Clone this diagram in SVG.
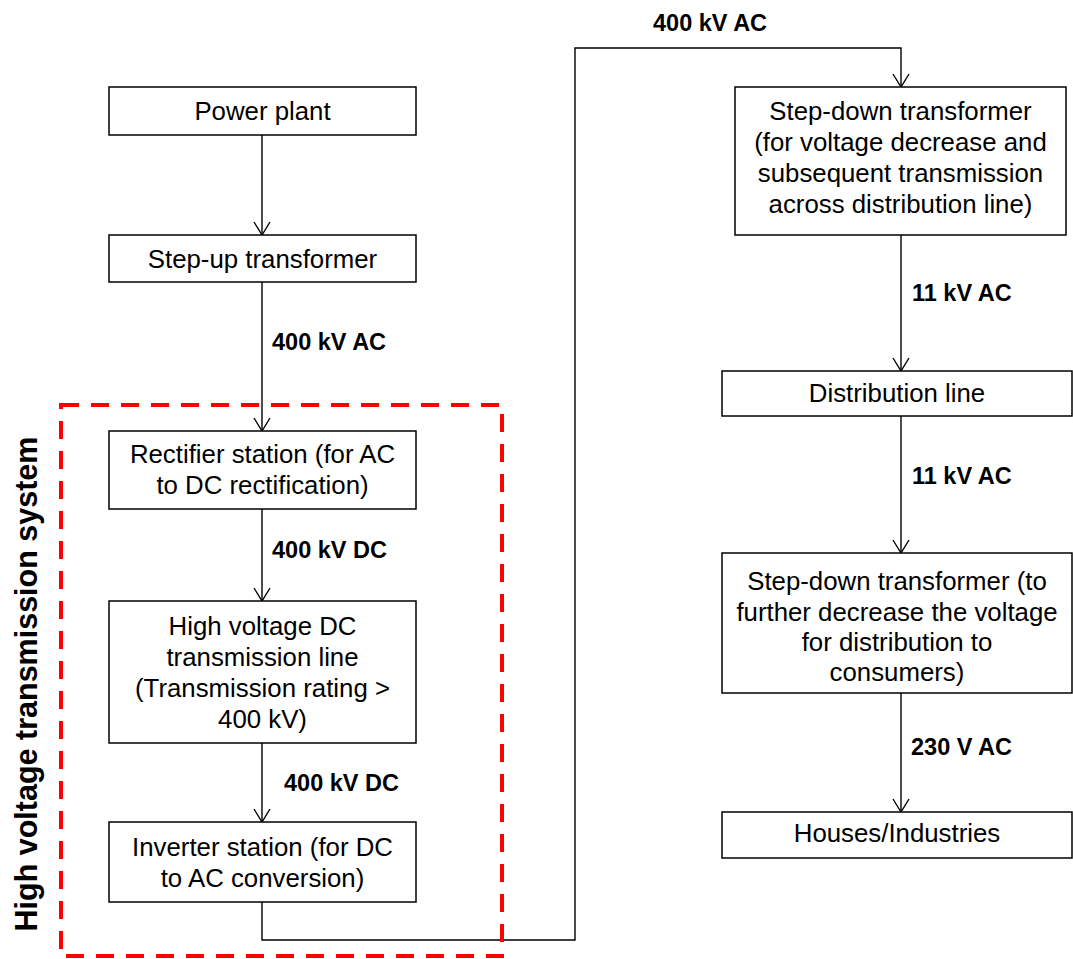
<svg xmlns="http://www.w3.org/2000/svg" width="1073" height="959" viewBox="0 0 1073 959">
<style>
.box{fill:#fff;stroke:#000;stroke-width:1.5}
.t{font-family:"Liberation Sans",Arial,sans-serif;font-size:25.8px;fill:#000;text-anchor:middle}
.lbl{font-family:"Liberation Sans",Arial,sans-serif;font-size:23.5px;font-weight:bold;fill:#000}
.c{fill:none;stroke:#000;stroke-width:1.4}
</style>
<defs>
<marker id="arr" markerUnits="userSpaceOnUse" viewBox="-14 -9 15 18" markerWidth="15" markerHeight="18" refX="0" refY="0" orient="auto">
<path d="M-13,-8 L0,0 L-13,8" fill="none" stroke="#000" stroke-width="1.4"/>
</marker>
</defs>
<rect width="1073" height="959" fill="#fff"/>

<g id="connectors">
<line class="c" x1="262" y1="135" x2="262" y2="235" marker-end="url(#arr)"/>
<line class="c" x1="262" y1="282" x2="262" y2="431" marker-end="url(#arr)"/>
<line class="c" x1="262" y1="509" x2="262" y2="601" marker-end="url(#arr)"/>
<line class="c" x1="262" y1="743" x2="262" y2="822" marker-end="url(#arr)"/>
<polyline class="c" points="262,902 262,940 575,940 575,48 901,48 901,87" marker-end="url(#arr)"/>
<line class="c" x1="901" y1="235" x2="901" y2="371" marker-end="url(#arr)"/>
<line class="c" x1="901" y1="416" x2="901" y2="553" marker-end="url(#arr)"/>
<line class="c" x1="901" y1="693" x2="901" y2="812" marker-end="url(#arr)"/>
<text class="lbl" x="272" y="350">400 kV AC</text>
<text class="lbl" x="272" y="558">400 kV DC</text>
<text class="lbl" x="284" y="791">400 kV DC</text>
<text class="lbl" x="653" y="31">400 kV AC</text>
<text class="lbl" x="912" y="301">11 kV AC</text>
<text class="lbl" x="912" y="484">11 kV AC</text>
<text class="lbl" x="911" y="755">230 V AC</text>
</g>

<g id="hv-system">
<rect x="61" y="405" width="441" height="551" fill="none" stroke="#ff0000" stroke-width="4" stroke-dasharray="18 12"/>
<text transform="translate(37,684) rotate(-90)" font-family="'Liberation Sans',Arial,sans-serif" font-size="30.5" font-weight="bold" text-anchor="middle" fill="#000">High voltage transmission system</text>
</g>

<g id="power-plant">
<rect class="box" x="109" y="87" width="307" height="48"/>
<text class="t" x="262.5" y="120">Power plant</text>
</g>
<g id="step-up">
<rect class="box" x="109" y="235" width="307" height="47"/>
<text class="t" x="262.5" y="268">Step-up transformer</text>
</g>
<g id="rectifier">
<rect class="box" x="109" y="431" width="307" height="78"/>
<text class="t" x="262.5" y="463">Rectifier station (for AC</text>
<text class="t" x="262.5" y="494">to DC rectification)</text>
</g>
<g id="hvdc-line">
<rect class="box" x="109" y="601" width="307" height="142"/>
<text class="t" x="262.5" y="635">High voltage DC</text>
<text class="t" x="262.5" y="666">transmission line</text>
<text class="t" x="262.5" y="697">(Transmission rating &gt;</text>
<text class="t" x="262.5" y="728">400 kV)</text>
</g>
<g id="inverter">
<rect class="box" x="109" y="822" width="307" height="80"/>
<text class="t" x="262.5" y="856">Inverter station (for DC</text>
<text class="t" x="262.5" y="887">to AC conversion)</text>
</g>
<g id="step-down-1">
<rect class="box" x="735" y="87" width="331" height="148"/>
<text class="t" x="900.5" y="120">Step-down transformer</text>
<text class="t" x="900.5" y="151">(for voltage decrease and</text>
<text class="t" x="900.5" y="182">subsequent transmission</text>
<text class="t" x="900.5" y="213">across distribution line)</text>
</g>
<g id="distribution-line">
<rect class="box" x="722" y="371" width="350" height="45"/>
<text class="t" x="897" y="402">Distribution line</text>
</g>
<g id="step-down-2">
<rect class="box" x="722" y="553" width="350" height="140"/>
<text class="t" x="897" y="590">Step-down transformer (to</text>
<text class="t" x="897" y="621">further decrease the voltage</text>
<text class="t" x="897" y="651">for distribution to</text>
<text class="t" x="897" y="681">consumers)</text>
</g>
<g id="houses">
<rect class="box" x="722" y="812" width="350" height="46"/>
<text class="t" x="897" y="842">Houses/Industries</text>
</g>
</svg>
